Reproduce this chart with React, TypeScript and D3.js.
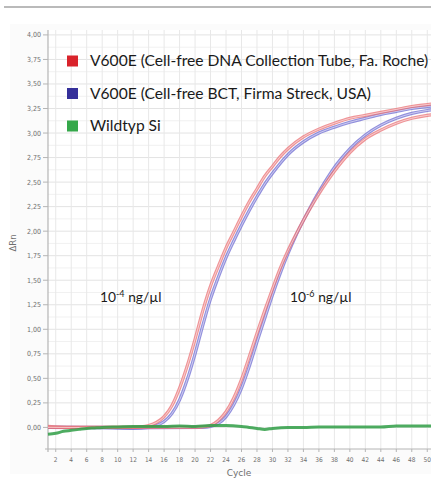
import React from "react";
import * as d3 from "d3";

// qPCR amplification plot, cycles vs. delta Rn
const cyclesLeftRoche = [1, 4, 8, 12, 13, 14, 15, 16, 17, 18, 19, 20, 21, 22, 23, 24, 25, 26, 27, 28, 29, 30, 31, 32, 34, 36, 38, 40, 42, 44, 46, 48, 50, 51];
const valuesLeftRoche = [0.01, 0.0, 0.0, 0.0, 0.005, 0.02, 0.05, 0.11, 0.22, 0.4, 0.63, 0.9, 1.19, 1.44, 1.64, 1.83, 1.99, 2.15, 2.3, 2.43, 2.56, 2.66, 2.76, 2.84, 2.96, 3.04, 3.1, 3.15, 3.18, 3.21, 3.24, 3.27, 3.29, 3.3];

const cyclesLeftStreck = [1, 8, 12, 14, 15, 16, 17, 18, 19, 20, 21, 22, 23, 24, 25, 26, 27, 28, 29, 30, 31, 32, 34, 36, 38, 40, 42, 44, 46, 48, 50, 51];
const valuesLeftStreck = [0.0, 0.0, -0.01, 0.0, 0.02, 0.06, 0.14, 0.28, 0.49, 0.75, 1.04, 1.31, 1.53, 1.73, 1.9, 2.06, 2.21, 2.35, 2.48, 2.59, 2.69, 2.78, 2.91, 3.0, 3.06, 3.11, 3.15, 3.19, 3.22, 3.25, 3.27, 3.28];

const cyclesRightRoche = [1, 10, 20, 21, 22, 23, 24, 25, 26, 27, 28, 29, 30, 31, 32, 33, 34, 35, 36, 37, 38, 39, 40, 42, 44, 46, 48, 50, 51];
const valuesRightRoche = [0.0, 0.0, 0.0, 0.005, 0.02, 0.07, 0.16, 0.3, 0.49, 0.72, 0.96, 1.19, 1.41, 1.62, 1.8, 1.96, 2.11, 2.25, 2.38, 2.5, 2.61, 2.71, 2.8, 2.94, 3.03, 3.1, 3.15, 3.18, 3.19];

const cyclesRightStreck = [1, 10, 21, 22, 23, 24, 25, 26, 27, 28, 29, 30, 31, 32, 33, 34, 35, 36, 37, 38, 39, 40, 42, 44, 46, 48, 50, 51];
const valuesRightStreck = [0.0, -0.005, 0.0, 0.01, 0.04, 0.11, 0.23, 0.4, 0.62, 0.87, 1.11, 1.35, 1.57, 1.77, 1.95, 2.11, 2.26, 2.4, 2.53, 2.65, 2.75, 2.84, 2.98, 3.08, 3.15, 3.2, 3.23, 3.24];

const cyclesWildtyp = [1, 2, 3, 4, 5, 6, 7, 8, 10, 12, 14, 16, 18, 20, 22, 24, 26, 27, 28, 29, 30, 32, 34, 36, 40, 44, 46, 48, 50, 51];
const valuesWildtyp = [-0.07, -0.06, -0.04, -0.03, -0.02, -0.01, -0.005, 0.0, 0.005, 0.01, 0.01, 0.01, 0.015, 0.01, 0.02, 0.02, 0.01, 0.0, -0.01, -0.02, -0.01, 0.0, 0.0, 0.005, 0.005, 0.005, 0.015, 0.015, 0.015, 0.015];

const yTicks = [0, 0.25, 0.5, 0.75, 1, 1.25, 1.5, 1.75, 2, 2.25, 2.5, 2.75, 3, 3.25, 3.5, 3.75, 4];
const xTicks = [2, 4, 6, 8, 10, 12, 14, 16, 18, 20, 22, 24, 26, 28, 30, 32, 34, 36, 38, 40, 42, 44, 46, 48, 50];

const legendLabels = [
  "V600E (Cell-free DNA Collection Tube, Fa. Roche)",
  "V600E (Cell-free BCT, Firma Streck, USA)",
  "Wildtyp Si",
];
const legendColors = ["#d9232b", "#35309a", "#35a84a"];

const W = 431;
const H = 486;

export default function App() {
  const x = d3.scaleLinear().domain([1, 51]).range([48, 435]);
  const y = d3.scaleLinear().domain([-0.22, 4.05]).range([449, 30]);

  const line = d3
    .line<[number, number]>()
    .x((d) => x(d[0]))
    .y((d) => y(d[1]))
    .curve(d3.curveMonotoneX);

  const pts = (c: number[], v: number[]) => c.map((k, i) => [k, v[i]] as [number, number]);

  const curves = [
    { d: line(pts(cyclesLeftStreck, valuesLeftStreck)), color: "#6e6bd2" },
    { d: line(pts(cyclesRightStreck, valuesRightStreck)), color: "#6e6bd2" },
    { d: line(pts(cyclesLeftRoche, valuesLeftRoche)), color: "#ea7074" },
    { d: line(pts(cyclesRightRoche, valuesRightRoche)), color: "#ea7074" },
  ];

  const fmt = (v: number) => v.toFixed(2).replace(".", ",");
  const yMinor = d3.range(0.125, 4.05, 0.25);

  return (
    <div style={{ position: "absolute", left: 0, top: 0 }}>
      <svg width={W} height={H} style={{ display: "block", background: "#fff" }}>
        <line x1={4} x2={431} y1={7} y2={7} stroke="#a3a3a3" strokeWidth={1.6} />
        <rect x={10} y={24} width={421} height={450} fill="#fbfbfb" />
        <rect x={48} y={30} width={383} height={419} fill="#fff" />

        {/* grid */}
        {yMinor.map((t) => (
          <line key={"m" + t} x1={48} x2={431} y1={y(t)} y2={y(t)} stroke="#f1f1f1" strokeWidth={1} />
        ))}
        {yTicks.map((t) => (
          <line key={"g" + t} x1={48} x2={431} y1={y(t)} y2={y(t)} stroke="#e3e3e3" strokeWidth={1} />
        ))}
        {xTicks.map((t) => (
          <line key={"v" + t} x1={x(t)} x2={x(t)} y1={30} y2={449} stroke="#e8e8e8" strokeWidth={1} />
        ))}

        {/* axes */}
        <line x1={48} x2={48} y1={30} y2={452} stroke="#b5b5b5" strokeWidth={1.2} />
        <line x1={45} x2={431} y1={449} y2={449} stroke="#b5b5b5" strokeWidth={1.2} />
        {yTicks.map((t) => (
          <g key={"yt" + t}>
            <line x1={43} x2={48} y1={y(t)} y2={y(t)} stroke="#b5b5b5" />
            <text x={41} y={y(t) + 2.5} textAnchor="end" fontSize={7} fill="#6f6f6f" fontFamily="DejaVu Sans Condensed, DejaVu Sans, sans-serif">
              {fmt(t)}
            </text>
          </g>
        ))}
        {xTicks.map((t) => (
          <g key={"xt" + t}>
            <line x1={x(t)} x2={x(t)} y1={449} y2={452} stroke="#b5b5b5" />
            <text x={x(t)} y={462} textAnchor="middle" fontSize={6.5} fill="#6f6f6f" fontFamily="DejaVu Sans Condensed, DejaVu Sans, sans-serif">
              {t}
            </text>
          </g>
        ))}
        <text x={239} y={476} textAnchor="middle" fontSize={9} fill="#6f6f6f" fontFamily="DejaVu Sans, sans-serif">
          Cycle
        </text>
        <text transform="translate(16,243) rotate(-90)" textAnchor="middle" fontSize={8.5} fill="#6f6f6f" fontFamily="DejaVu Sans, sans-serif">
          ΔRn
        </text>

        {/* amplification curves */}
        <g fill="none">
          {curves.map((c, i) => (
            <g key={"c" + i}>
              <path d={c.d || ""} stroke={c.color} strokeWidth={3.2} strokeOpacity={0.75} />
              <path d={c.d || ""} stroke="#fff" strokeWidth={1} strokeOpacity={0.55} />
            </g>
          ))}
          <path
            d={line(pts(cyclesWildtyp, valuesWildtyp)) || ""}
            stroke="#2f9e45"
            strokeWidth={3}
            strokeOpacity={0.85}
          />
        </g>

        {/* legend */}
        {legendLabels.map((l, i) => (
          <g key={"l" + i}>
            <rect x={67} y={55.5 + i * 32.5} width={11} height={11} fill={legendColors[i]} />
            <text x={90} y={66 + i * 32.5} fontSize={15.6} fill="#1a1a1a" fontFamily="Lato, Open Sans, sans-serif">
              {l}
            </text>
          </g>
        ))}

        {/* concentration labels */}
        <text x={100} y={302} fontSize={13.8} fill="#1a1a1a" fontFamily="Lato, Open Sans, sans-serif">
          10<tspan fontSize={9} dy={-5}>-4</tspan>
          <tspan dy={5}> ng/µl</tspan>
        </text>
        <text x={290} y={302} fontSize={13.8} fill="#1a1a1a" fontFamily="Lato, Open Sans, sans-serif">
          10<tspan fontSize={9} dy={-5}>-6</tspan>
          <tspan dy={5}> ng/µl</tspan>
        </text>
      </svg>
    </div>
  );
}
